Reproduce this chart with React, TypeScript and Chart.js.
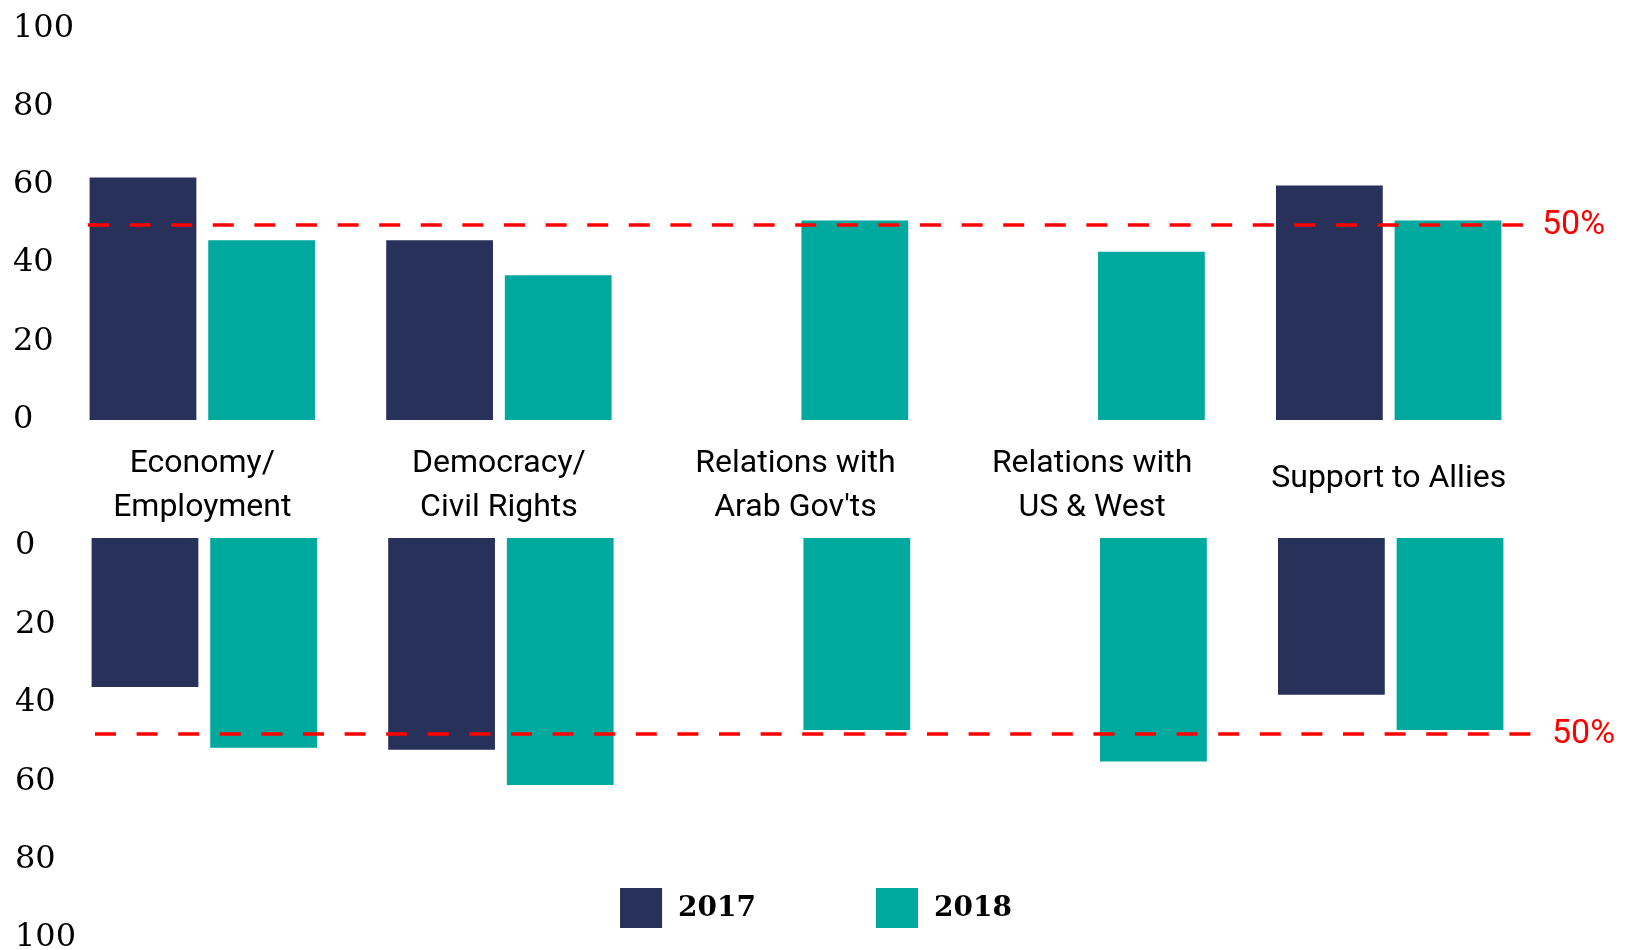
import React, { useEffect, useRef } from 'react';
import { Chart, registerables } from 'chart.js';

Chart.register(...registerables);

// ---------- data ----------
const categories: (string | string[])[] = [
  ['Economy/', 'Employment'],
  ['Democracy/', 'Civil Rights'],
  ['Relations with', "Arab Gov'ts"],
  ['Relations with', 'US & West'],
  'Support to Allies',
];
const seriesLabels = ['2017', '2018'];
const top2017: (number | null)[] = [62, 46, null, null, 60];
const top2018: (number | null)[] = [46, 37, 51, 43, 51];
const bottom2017: (number | null)[] = [38, 54, null, null, 40];
const bottom2018: (number | null)[] = [53.5, 63, 49, 57, 49];
const axisMin = 0;
const axisMax = 100;
const axisStep = 20;
const thresholdValue = 50;
const thresholdLabel = '50%';

// ---------- styles ----------
const NAVY = '#27315A';
const TEAL = '#00A99D';
const RED = '#FF0000';
const TICK_FONT = 'DejaVu Serif';
const LABEL_FONT = 'Roboto';

const thresholdPlugin = {
  id: 'threshold',
  afterDatasetsDraw(chart: any, _args: any, opts: any) {
    const { ctx, chartArea, scales } = chart;
    const y = Math.round(scales.y.getPixelForValue(opts.value));
    const x0 = chartArea.left + opts.startOffset;
    const x1 = chartArea.right + opts.endOffset;
    ctx.save();
    ctx.strokeStyle = RED;
    ctx.lineWidth = 3.5;
    ctx.setLineDash([21, 20.6]);
    ctx.beginPath();
    ctx.moveTo(x0, y);
    ctx.lineTo(x1, y);
    ctx.stroke();
    ctx.setLineDash([]);
    ctx.fillStyle = RED;
    ctx.font = `34px ${LABEL_FONT}`;
    ctx.textBaseline = 'middle';
    ctx.textAlign = 'left';
    ctx.fillText(opts.label, x1 + opts.labelGap, y);
    ctx.restore();
  },
};

const legendPlugin = {
  id: 'customLegend',
  afterDraw(chart: any, _args: any, opts: any) {
    if (!opts || !opts.show) return;
    const { ctx } = chart;
    const boxW = 42;
    const boxH = 40;
    const gap = 16;
    const spacing = 120;
    ctx.save();
    ctx.font = `bold 28px ${TICK_FONT}`;
    const items = chart.data.datasets.map((d: any) => ({
      text: d.label,
      color: d.backgroundColor,
      w: ctx.measureText(d.label).width,
    }));
    let total = 0;
    items.forEach((it: any, i: number) => {
      total += boxW + gap + it.w + (i < items.length - 1 ? spacing : 0);
    });
    let x = chart.width / 2 - total / 2;
    const cy = chart.chartArea.bottom + opts.offsetY;
    items.forEach((it: any) => {
      ctx.fillStyle = it.color;
      ctx.fillRect(x, cy - boxH / 2, boxW, boxH);
      ctx.fillStyle = '#000';
      ctx.textBaseline = 'middle';
      ctx.textAlign = 'left';
      ctx.fillText(it.text, x + boxW + gap, cy + 1);
      x += boxW + gap + it.w + spacing;
    });
    ctx.restore();
  },
};

function makeConfig(
  d2017: (number | null)[],
  d2018: (number | null)[],
  isTop: boolean
): any {
  return {
    type: 'bar',
    data: {
      labels: categories,
      datasets: [
        { label: seriesLabels[0], data: d2017, backgroundColor: NAVY, borderWidth: 0 },
        { label: seriesLabels[1], data: d2018, backgroundColor: TEAL, borderWidth: 0 },
      ],
    },
    plugins: [thresholdPlugin, legendPlugin],
    options: {
      animation: false,
      responsive: false,
      events: [],
      layout: {
        padding: isTop
          ? { left: 13, right: 95, top: 29, bottom: 0 }
          : { left: 15, right: 93, top: 38, bottom: 20 },
      },
      datasets: { bar: { categoryPercentage: 0.8, barPercentage: 0.9 } },
      plugins: {
        legend: { display: false },
        tooltip: { enabled: false },
        threshold: isTop
          ? { value: thresholdValue, label: thresholdLabel, startOffset: 34, endOffset: -14, labelGap: 19 }
          : { value: thresholdValue, label: thresholdLabel, startOffset: 39, endOffset: -8, labelGap: 21 },
        customLegend: { show: !isTop, offsetY: -22 },
      },
      scales: {
        x: {
          display: isTop,
          grid: { display: false, drawTicks: false },
          border: { display: false },
          ticks: {
            autoSkip: false,
            maxRotation: 0,
            minRotation: 0,
            padding: 44,
            crossAlign: 'center',
            color: '#000',
            font: (c: any) => ({
              family: LABEL_FONT,
              size: 32,
              lineHeight: c.tick && Array.isArray(c.tick.label) ? 1.37 : 1.82,
            }),
          },
          afterFit: (s: any) => {
            if (isTop) s.height = 110;
          },
        },
        y: {
          min: axisMin,
          max: axisMax,
          reverse: !isTop,
          grid: { display: false, drawTicks: false },
          border: { display: false },
          ticks: {
            stepSize: axisStep,
            mirror: true,
            crossAlign: 'near',
            padding: -41,
            labelOffset: isTop ? -0.5 : 8,
            color: '#000',
            font: { family: TICK_FONT, size: 32 },
          },
          afterFit: (s: any) => {
            s.width = 41;
          },
        },
      },
    },
  };
}

export default function App() {
  const topRef = useRef<HTMLCanvasElement | null>(null);
  const bottomRef = useRef<HTMLCanvasElement | null>(null);

  useEffect(() => {
    const charts: Chart[] = [];
    if (topRef.current) {
      charts.push(new Chart(topRef.current, makeConfig(top2017, top2018, true)));
    }
    if (bottomRef.current) {
      charts.push(new Chart(bottomRef.current, makeConfig(bottom2017, bottom2018, false)));
    }
    return () => {
      charts.forEach((c) => c.destroy());
    };
  }, []);

  return (
    <div
      style={{
        position: 'absolute',
        left: 0,
        top: 0,
        width: 1632,
        height: 950,
        background: '#fff',
        overflow: 'hidden',
      }}
    >
      <canvas
        ref={topRef}
        width={1632}
        height={530}
        style={{ position: 'absolute', left: 0, top: 0, width: 1632, height: 530 }}
      />
      <canvas
        ref={bottomRef}
        width={1632}
        height={450}
        style={{ position: 'absolute', left: 0, top: 500, width: 1632, height: 450 }}
      />
    </div>
  );
}
